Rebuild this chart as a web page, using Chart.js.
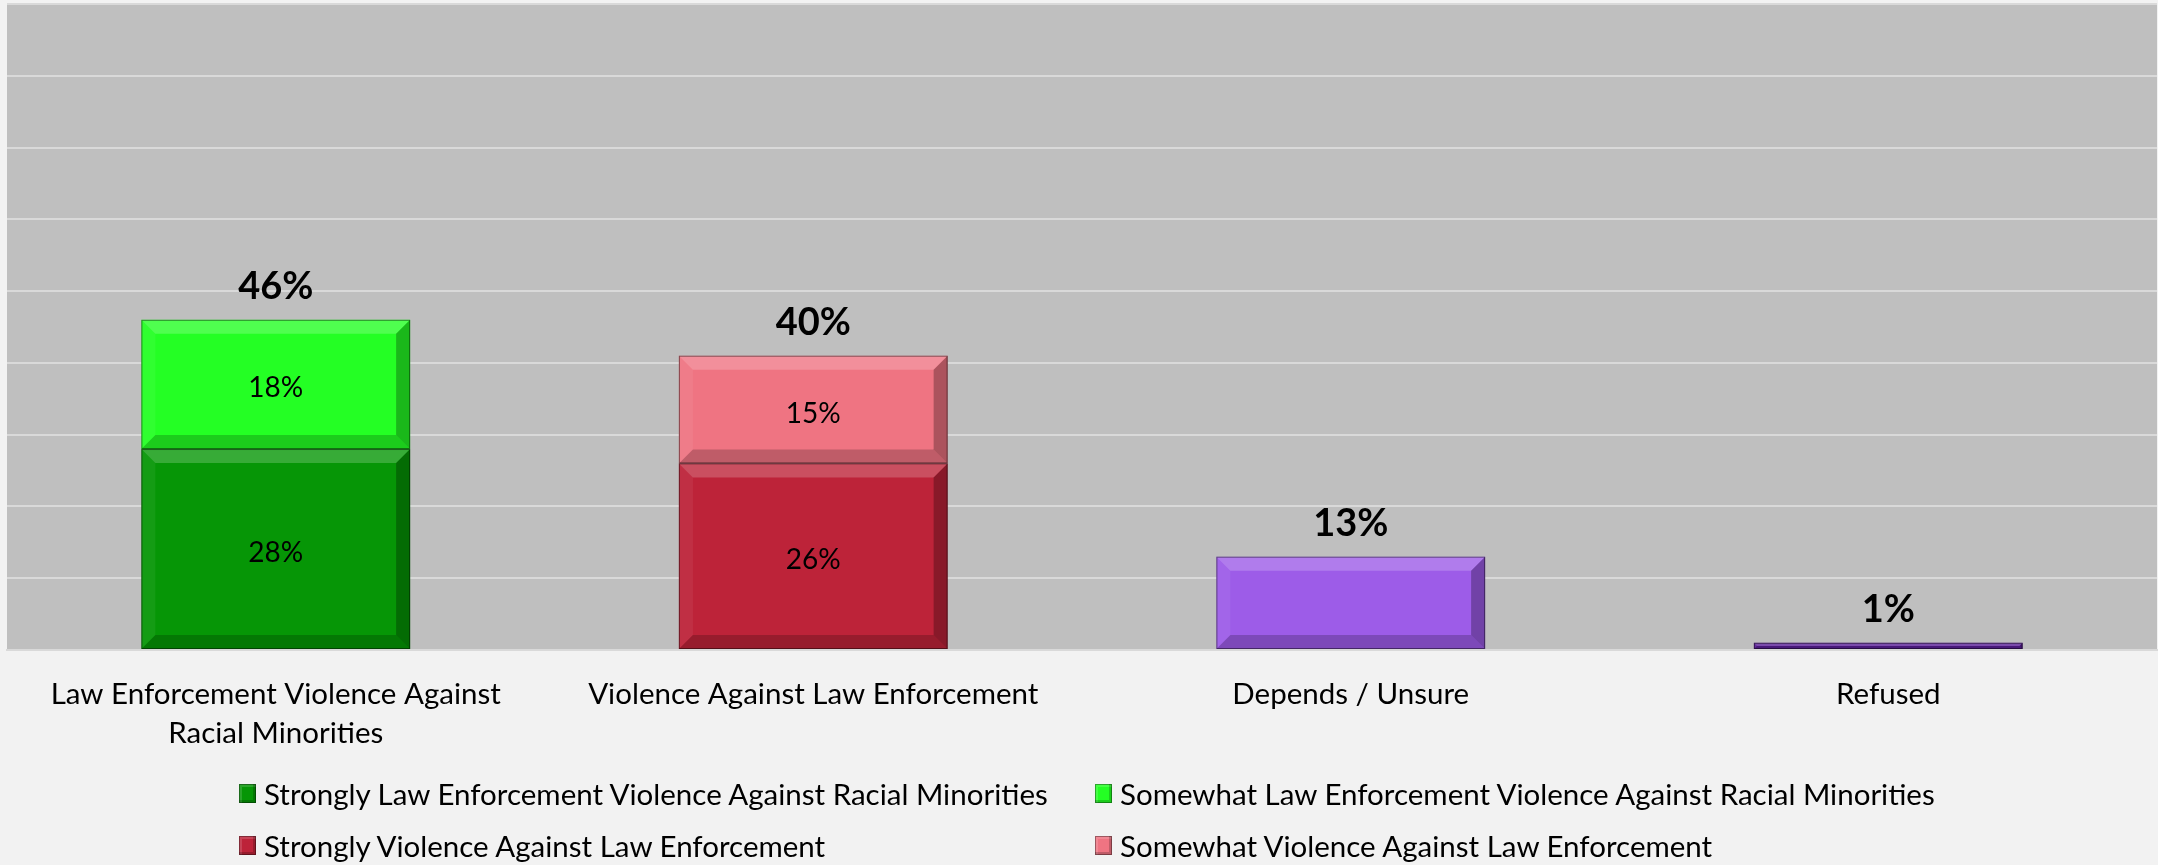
<!DOCTYPE html>
<html>
<head>
<meta charset="utf-8">
<script src="https://cdn.jsdelivr.net/npm/chart.js@4/dist/chart.umd.min.js"></script>
<style>
  html, body { margin: 0; padding: 0; background: #f2f2f2; }
  #wrap { position: relative; width: 2158px; height: 865px; }
  #legend {
    position: absolute; left: 239px; top: 771px;
    display: grid; grid-template-columns: 856px 860px; row-gap: 8px;
    font-family: Lato, "Open Sans", sans-serif; font-size: 29.5px; color: #000;
  }
  .item { display: flex; align-items: center; height: 44px; white-space: nowrap; }
  .box {
    flex-shrink: 0; width: 17px; height: 19px; margin-right: 8px;
    box-shadow: inset 0 0 0 1px rgba(0,0,0,0.35), inset -3px -3px 0 rgba(0,0,0,0.2), inset 3px 3px 0 rgba(255,255,255,0.15);
  }
</style>
</head>
<body>
<div id="wrap">
  <canvas id="bar-canvas" width="2158" height="865"></canvas>
  <div id="legend"></div>
</div>
<script>
(function() {
    'use strict';

    var categories = [
        ['Law Enforcement Violence Against', 'Racial Minorities'],
        'Violence Against Law Enforcement',
        'Depends / Unsure',
        'Refused'
    ];
    var stronglyLe = [28, null, null, null];
    var somewhatLe = [18, null, null, null];
    var stronglyVale = [null, 26, null, null];
    var somewhatVale = [null, 15, null, null];
    var otherAnswers = [null, null, 13, 1];
    var totals = [46, 40, 13, 1];
    var yTicks = [0, 10, 20, 30, 40, 50, 60, 70, 80, 90];

    var fontFamily = 'Lato, "Open Sans", sans-serif';

    // plot area background
    var plotBg = {
        id: 'plotBg',
        beforeDraw: function(chart) {
            var a = chart.chartArea;
            var ctx = chart.ctx;
            ctx.save();
            ctx.fillStyle = '#bfbfbf';
            ctx.fillRect(a.left, a.top, a.right - a.left, a.bottom - a.top);
            ctx.restore();
        }
    };

    // bevel look like the excel bars
    var bevel = {
        id: 'bevel',
        afterDatasetsDraw: function(chart) {
            var ctx = chart.ctx;
            chart.data.datasets.forEach(function(ds, di) {
                var meta = chart.getDatasetMeta(di);
                meta.data.forEach(function(el, i) {
                    if (ds.data[i] == null) return;
                    var x0 = el.x - el.width / 2, x1 = el.x + el.width / 2;
                    var y0 = Math.min(el.y, el.base), y1 = Math.max(el.y, el.base);
                    var b = Math.min(14, (y1 - y0) / 2);
                    function quad(pts, color) {
                        ctx.beginPath();
                        ctx.moveTo(pts[0], pts[1]);
                        for (var k = 2; k < pts.length; k += 2) ctx.lineTo(pts[k], pts[k + 1]);
                        ctx.closePath();
                        ctx.fillStyle = color;
                        ctx.fill();
                    }
                    ctx.save();
                    quad([x0, y0, x1, y0, x1 - b, y0 + b, x0 + b, y0 + b], 'rgba(255,255,255,0.2)');
                    quad([x0, y0, x0 + b, y0 + b, x0 + b, y1 - b, x0, y1], 'rgba(255,255,255,0.06)');
                    quad([x1, y0, x1, y1, x1 - b, y1 - b, x1 - b, y0 + b], 'rgba(0,0,0,0.28)');
                    quad([x0, y1, x1, y1, x1 - b, y1 - b, x0 + b, y1 - b], 'rgba(0,0,0,0.2)');
                    ctx.strokeStyle = 'rgba(0,0,0,0.45)';
                    ctx.lineWidth = 1;
                    ctx.strokeRect(x0 + 0.5, y0 + 0.5, x1 - x0 - 1, y1 - y0 - 1);
                    ctx.restore();
                });
            });
        }
    };

    // value labels inside segments and totals on top
    var labels = {
        id: 'labels',
        afterDatasetsDraw: function(chart) {
            var ctx = chart.ctx;
            ctx.save();
            ctx.textAlign = 'center';
            ctx.textBaseline = 'middle';
            ctx.fillStyle = '#000';
            var tops = [];
            chart.data.datasets.forEach(function(ds, di) {
                var meta = chart.getDatasetMeta(di);
                meta.data.forEach(function(el, i) {
                    if (ds.data[i] == null) return;
                    if (tops[i] === undefined || el.y < tops[i]) tops[i] = el.y;
                    if (ds.inside) {
                        ctx.font = '28px ' + fontFamily;
                        ctx.fillText(ds.data[i] + '%', el.x, (el.y + el.base) / 2 + 4);
                    }
                });
            });
            ctx.font = 'bold 38px ' + fontFamily;
            var xs = chart.scales.x;
            totals.forEach(function(t, i) {
                ctx.fillText(t + '%', xs.getPixelForValue(i), tops[i] - 33);
            });
            ctx.restore();
        }
    };

    var ctx = document.getElementById('bar-canvas').getContext('2d');
    var chartObj = new Chart(ctx, {
        type: 'bar',
        data: {
            labels: categories,
            datasets: [
                { label: 'Strongly Law Enforcement Violence Against Racial Minorities', data: stronglyLe, backgroundColor: '#069606', inside: true, legend: true },
                { label: 'Somewhat Law Enforcement Violence Against Racial Minorities', data: somewhatLe, backgroundColor: '#24ff24', inside: true, legend: true },
                { label: 'Strongly Violence Against Law Enforcement', data: stronglyVale, backgroundColor: '#bd2339', inside: true, legend: true },
                { label: 'Somewhat Violence Against Law Enforcement', data: somewhatVale, backgroundColor: '#ef7482', inside: true, legend: true },
                { label: 'Other', data: otherAnswers, backgroundColor: ['#9d5ce8', '#5b1e98'], inside: false, legend: false }
            ]
        },
        options: {
            responsive: false,
            animation: false,
            layout: { padding: { top: 4, right: 1, left: 0, bottom: 0 } },
            datasets: { bar: { categoryPercentage: 1, barPercentage: 0.5, skipNull: true, grouped: false } },
            plugins: {
                legend: { display: false },
                tooltip: { enabled: false }
            },
            scales: {
                x: {
                    stacked: true,
                    grid: { display: false, drawTicks: false },
                    border: { display: true, color: '#d9d9d9', width: 2 },
                    ticks: {
                        padding: 25,
                        color: '#000',
                        font: { family: fontFamily, size: 29.5, lineHeight: 1.32 },
                        maxRotation: 0,
                        autoSkip: false
                    },
                    afterFit: function(scale) { scale.height = 215; }
                },
                y: {
                    stacked: true,
                    min: 0,
                    max: 90,
                    afterBuildTicks: function(scale) {
                        scale.ticks = yTicks.map(function(v) { return { value: v }; });
                    },
                    grid: { color: '#d9d9d9', lineWidth: 2, drawTicks: false },
                    border: { display: false },
                    ticks: { display: false },
                    afterFit: function(scale) { scale.width = 7; }
                }
            }
        },
        plugins: [plotBg, bevel, labels]
    });

    // legend laid out in two columns like the original
    var legendEl = document.getElementById('legend');
    chartObj.data.datasets.forEach(function(ds) {
        if (!ds.legend) return;
        var item = document.createElement('div');
        item.className = 'item';
        var box = document.createElement('span');
        box.className = 'box';
        box.style.background = ds.backgroundColor;
        var txt = document.createElement('span');
        txt.textContent = ds.label;
        item.appendChild(box);
        item.appendChild(txt);
        legendEl.appendChild(item);
    });
})();
</script>
</body>
</html>
